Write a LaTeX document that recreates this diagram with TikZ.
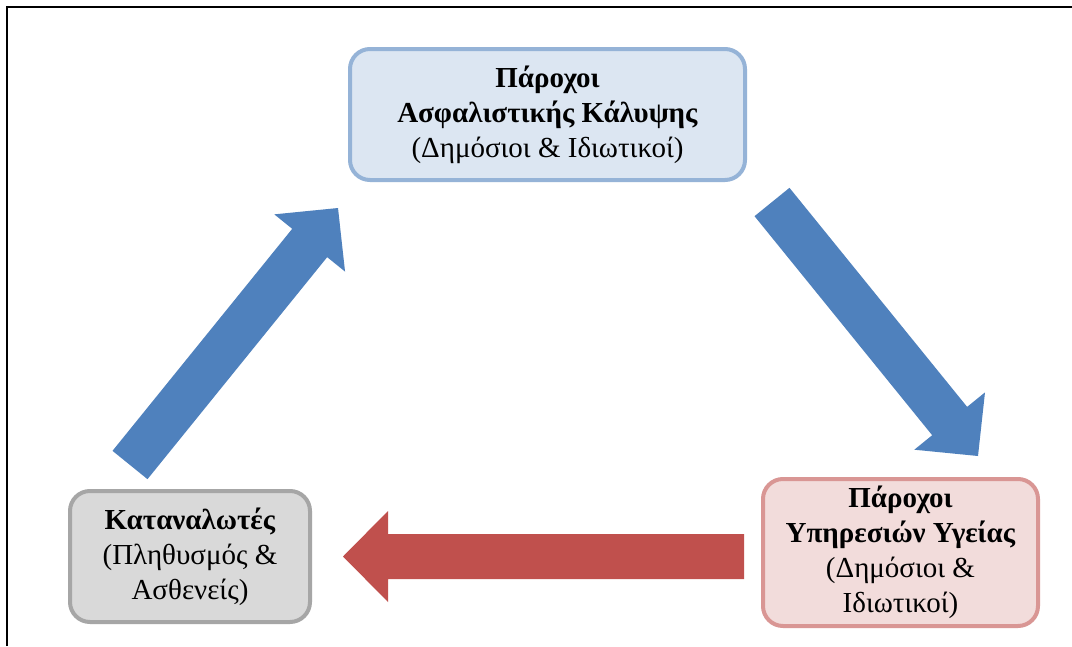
\documentclass[tikz,border=0pt]{standalone}
\usepackage{fontspec}
\setmainfont{Liberation Serif}
\usetikzlibrary{calc}
\definecolor{arrblue}{HTML}{4F81BD}
\definecolor{arrred}{HTML}{C0504D}
\definecolor{topfill}{HTML}{DCE6F2}
\definecolor{topdraw}{HTML}{95B3D7}
\definecolor{grfill}{HTML}{D9D9D9}
\definecolor{grdraw}{HTML}{A6A6A6}
\definecolor{rdfill}{HTML}{F2DCDB}
\definecolor{rddraw}{HTML}{D99694}
\tikzset{
  box/.style={rounded corners=20pt, line width=4pt, align=center, inner sep=0pt,
    font=\fontsize{29}{35}\selectfont},
  frameline/.style={line width=2pt, black},
}
\newcommand{\blockarrow}[3]{%
  \fill[#3]
    ($(#1)!22.5pt!-90:(#2)$) --
    ($($(#2)!45pt!(#1)$)!22.5pt!-90:(#2)$) --
    ($($(#2)!45pt!(#1)$)!45.5pt!-90:(#2)$) --
    (#2) --
    ($($(#2)!45pt!(#1)$)!45.5pt!90:(#2)$) --
    ($($(#2)!45pt!(#1)$)!22.5pt!90:(#2)$) --
    ($(#1)!22.5pt!90:(#2)$) -- cycle;}
\begin{document}
\begin{tikzpicture}[x=1pt,y=-1pt]
\useasboundingbox[fill=white] (0,0) rectangle (1072,646);
% frame (cropped page border)
\coordinate (fa) at (7,646);
\coordinate (fb) at (7,7);
\coordinate (fc) at (1072,7);
\draw[frameline] (fa) -- (fb) -- (fc);
% boxes
\node[box, fill=topfill, draw=topdraw, minimum width=395pt, minimum height=131pt]
  (ins) at (547.5,114.5) {\textbf{Πάροχοι}\\\textbf{Ασφαλιστικής Κάλυψης}\\(Δημόσιοι \& Ιδιωτικοί)};
\node[box, fill=grfill, draw=grdraw, minimum width=240pt, minimum height=131pt]
  (con) at (190,556.5) {\textbf{Καταναλωτές}\\(Πληθυσμός \&\\Ασθενείς)};
\node[box, fill=rdfill, draw=rddraw, minimum width=275pt, minimum height=147pt]
  (hsp) at (900.5,552.5) {\textbf{Πάροχοι}\\\textbf{Υπηρεσιών Υγείας}\\(Δημόσιοι \&\\Ιδιωτικοί)};
% arrow end points
\coordinate (a1s) at (130,465);
\coordinate (a1e) at (338,208);
\coordinate (a2s) at (772,202);
\coordinate (a2e) at (978,456);
\coordinate (a3s) at (744,556.5);
\coordinate (a3e) at (343,556.5);
\blockarrow{a1s}{a1e}{arrblue}
\blockarrow{a2s}{a2e}{arrblue}
\blockarrow{a3s}{a3e}{arrred}
\end{tikzpicture}
\end{document}
